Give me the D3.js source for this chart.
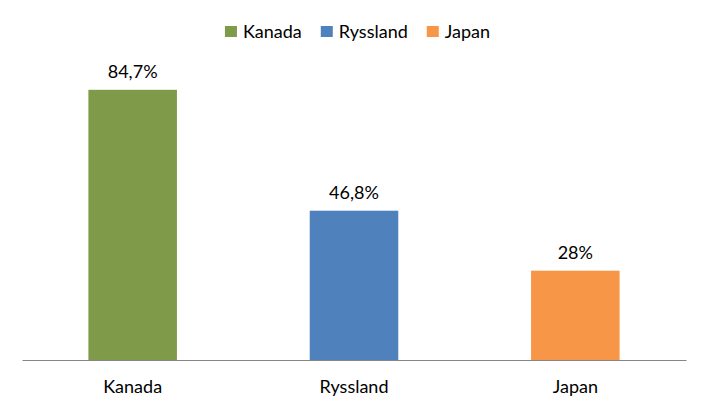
<!DOCTYPE html>
<html>
<head>
<meta charset="utf-8">
<script src="https://cdn.jsdelivr.net/npm/d3@7"></script>
<style>
  body { margin: 0; background: #fff; }
  text { font-family: Lato, "Open Sans", sans-serif; }
</style>
</head>
<body>
<div id="container"></div>
<script>
/* DATA */
const countries = ["Kanada", "Ryssland", "Japan"];
const shares = [84.7, 46.8, 28];
const shareLabels = ["84,7%", "46,8%", "28%"];
const barColors = ["#7f9a48", "#4f81bd", "#f79646"];

/* CONSTANTS */
const width = 709;
const height = 413;
const baseY = 360;
const fontSize = "18px";

const color = d3.scaleOrdinal().domain(countries).range(barColors);

/* SCALES */
const xScale = d3.scaleBand()
    .domain(countries)
    .range([22, 686])
    .paddingInner(0.6)
    .paddingOuter(0.3);

const yScale = d3.scaleLinear()
    .domain([0, 100])
    .range([baseY, 41]);

/* SVG */
const svg = d3.select("#container")
    .append("svg")
    .attr("width", width)
    .attr("height", height);

// bars
svg.selectAll(".bar")
    .data(countries)
    .join("rect")
    .attr("class", "bar")
    .attr("x", d => xScale(d))
    .attr("y", (d, i) => yScale(shares[i]))
    .attr("width", xScale.bandwidth())
    .attr("height", (d, i) => baseY - yScale(shares[i]))
    .attr("fill", d => color(d));

// value labels
svg.selectAll(".value")
    .data(countries)
    .join("text")
    .attr("class", "value")
    .attr("x", d => xScale(d) + xScale.bandwidth() / 2)
    .attr("y", (d, i) => yScale(shares[i]) - 12)
    .attr("text-anchor", "middle")
    .style("font-size", fontSize)
    .attr("fill", "#000")
    .text((d, i) => shareLabels[i]);

// x axis
const xAxis = svg.append("g")
    .attr("transform", `translate(0, ${baseY})`)
    .call(d3.axisBottom(xScale).tickSize(0).tickPadding(20).tickSizeOuter(0));
xAxis.select(".domain").attr("stroke", "#868686").attr("stroke-width", 1);
xAxis.selectAll("text")
    .style("font-size", fontSize)
    .style("font-family", "Lato, 'Open Sans', sans-serif")
    .attr("fill", "#000");

// legend
const legend = svg.append("g");
const items = legend.selectAll(".item")
    .data(countries)
    .join("g")
    .attr("class", "item");
items.append("rect")
    .attr("width", 12)
    .attr("height", 11)
    .attr("y", 26)
    .attr("fill", d => color(d));
items.append("text")
    .attr("x", 18)
    .attr("y", 38)
    .style("font-size", fontSize)
    .text(d => d);

let offset = 0;
items.each(function () {
    const w = this.getBBox().width;
    d3.select(this).attr("transform", `translate(${offset}, 0)`);
    offset += w + 19;
});
const total = offset - 19;
legend.attr("transform", `translate(${(width - total) / 2 + 3}, 0)`);
</script>
</body>
</html>
